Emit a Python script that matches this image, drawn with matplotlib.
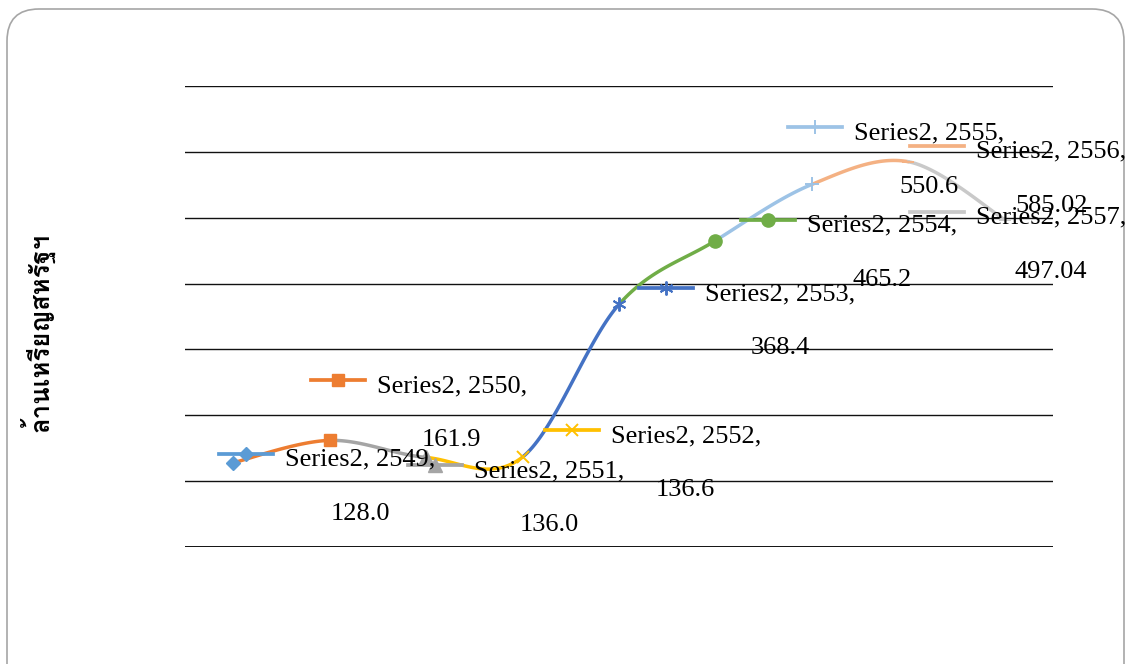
import numpy as np
import matplotlib
matplotlib.use("Agg")
import matplotlib.pyplot as plt
from matplotlib import font_manager as fm
from matplotlib.ft2font import FT2Font
from matplotlib.patches import FancyBboxPatch
from matplotlib.transforms import IdentityTransform

# ---- data ----
series_name = "Series2"
years = ["2549", "2550", "2551", "2552", "2553", "2554", "2555", "2556", "2557"]
values = [128.0, 161.9, 136.0, 136.6, 368.4, 465.2, 550.6, 585.02, 497.04]
value_labels = ["128.0", "161.9", "136.0", "136.6", "368.4", "465.2", "550.6", "585.02", "497.04"]
y_title = "ล้านเหรียญสหรัฐฯ"

# ---- styles ----
colors = ["#5B9BD5", "#ED7D31", "#A5A5A5", "#FFC000", "#4472C4",
          "#70AD47", "#9DC3E6", "#F4B183", "#C9C9C9"]
markers = ["D", "s", "^", "x", (6, 2, 0), "o", "+", "_", "_"]
msizes = [7, 8.5, 9.5, 8, 10, 9.5, 10, 9, 9]
# label key-left offsets from data point, in pixels (dx right, dy down)
label_offsets = [(-14, -9), (-19, -60), (-18, 8), (22, -27), (20, -16),
                 (26, -21), (-24, -57), (2, -16), (-95, -8)]


def find_font(chars):
    best = None
    for f in fm.fontManager.ttflist:
        try:
            cmap = FT2Font(f.fname).get_charmap()
        except Exception:
            continue
        if all(ord(c) in cmap for c in chars):
            if f.weight in ("bold", 700) or str(f.weight) == "700":
                return f.name
            best = best or f.name
    return best or "DejaVu Sans"

thai_font = find_font("ลานเหรียญสหรัฐ")

W, H = 1126, 664
fig = plt.figure(figsize=(W / 100, H / 100), dpi=100)
fig.patch.set_facecolor("white")

x0, x1 = 185, 1053
ytop, ybot = 86, 547
ax = fig.add_axes([x0 / W, (H - ybot) / H, (x1 - x0) / W, (ybot - ytop) / H])
ax.set_xlim(-0.5, len(values) - 0.5)
ax.set_ylim(0, 700)
for s in ax.spines.values():
    s.set_visible(False)
ax.set_xticks([])
ax.set_yticks([])
for g in range(0, 701, 100):
    ax.axhline(g, color="#111111", lw=1.0 if g else 1.4, zorder=1)

# smoothed line (cardinal / Catmull-Rom Bezier like Excel), each segment coloured by end point
xs = np.arange(len(values), dtype=float)
ys = np.array(values, dtype=float)
t = np.linspace(0, 1, 40)
n = len(xs)
for i in range(1, n):
    p0 = np.array([xs[max(i - 2, 0)], ys[max(i - 2, 0)]])
    p1 = np.array([xs[i - 1], ys[i - 1]])
    p2 = np.array([xs[i], ys[i]])
    p3 = np.array([xs[min(i + 1, n - 1)], ys[min(i + 1, n - 1)]])
    c1 = p1 + (p2 - p0) / 6.0
    c2 = p2 - (p3 - p1) / 6.0
    b = (np.outer((1 - t) ** 3, p1) + np.outer(3 * (1 - t) ** 2 * t, c1)
         + np.outer(3 * (1 - t) * t ** 2, c2) + np.outer(t ** 3, p2))
    ax.plot(b[:, 0], b[:, 1], color=colors[i], lw=2.5, solid_capstyle="round", zorder=2)

for i in range(n):
    mk = markers[i]
    ax.plot(xs[i], ys[i], marker=mk, ms=msizes[i], color=colors[i],
            mew=1.4 if mk in ("x", "+", "_") or isinstance(mk, tuple) else 1,
            linestyle="none", zorder=3)

# data labels with legend keys
fig.canvas.draw()
inv = ax.transData.inverted()
for i in range(n):
    px, py = ax.transData.transform((xs[i], ys[i]))
    dx, dy = label_offsets[i]
    kx, ky = px + dx, py - dy
    a = inv.transform((kx, ky))
    b2 = inv.transform((kx + 54, ky))
    m = inv.transform((kx + 27, ky))
    ax.plot([a[0], b2[0]], [a[1], b2[1]], color=colors[i], lw=2.7, clip_on=False, zorder=4)
    mk = markers[i]
    ax.plot(m[0], m[1], marker=mk, ms=msizes[i], color=colors[i],
            mew=1.4 if mk in ("x", "+", "_") or isinstance(mk, tuple) else 1,
            clip_on=False, zorder=4)
    fig.text(kx + 66, ky - 12, f"{series_name}, {years[i]},", transform=IdentityTransform(),
             fontsize=19, family="Liberation Serif", ha="left", va="baseline", zorder=5)
    fig.text(kx + 141, ky - 66, value_labels[i], transform=IdentityTransform(),
             fontsize=19, family="Liberation Serif", ha="center", va="baseline", zorder=5)

fig.text(38, H - 332, y_title, transform=IdentityTransform(), rotation=90,
         fontsize=18.5, fontweight="bold", family=[thai_font, "DejaVu Sans"],
         ha="center", va="center")

border = FancyBboxPatch((7, -60), 1117, H - 9 + 60, boxstyle="round,pad=0,rounding_size=32",
                        transform=IdentityTransform(), fill=False, edgecolor="#a6a6a6", lw=1.2)
fig.patches.append(border)

fig.savefig("out.png", dpi=100)
